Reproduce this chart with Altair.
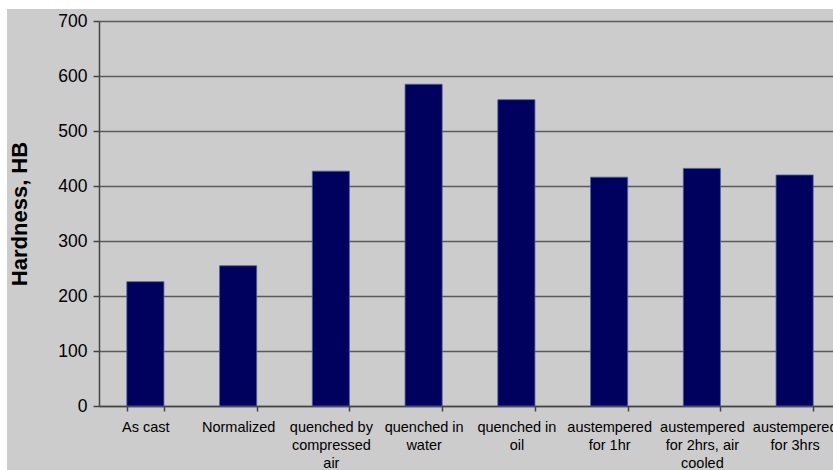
import altair as alt
import pandas as pd

# Heat-treatment conditions (line breaks mark how each label wraps)
categories = [
    "As cast",
    "Normalized",
    "quenched by\ncompressed\nair",
    "quenched in\nwater",
    "quenched in\noil",
    "austempered\nfor 1hr",
    "austempered\nfor 2hrs, air\ncooled",
    "austempered\nfor 3hrs",
]
hardness = [226, 255, 427, 585, 557, 416, 432, 420]
y_ticks = [0, 100, 200, 300, 400, 500, 600, 700]

df = pd.DataFrame({"treatment": categories, "hb": hardness})

GRAY = "#cccccc"
NAVY = "#00005e"
FONT = "Liberation Sans"

W, H = 734, 385

bars = (
    alt.Chart(df)
    .mark_bar(color=NAVY, stroke="#4f5f93", strokeWidth=0.8)
    .encode(
        x=alt.X(
            "treatment:N",
            sort=None,
            scale=alt.Scale(range=[0, 742], paddingInner=0.6, paddingOuter=0.3),
            axis=alt.Axis(
                title=None,
                labelAngle=0,
                labelExpr="isString(datum.value) ? split(datum.value, '\\n') : ''",
                labelFont=FONT,
                labelFontSize=14.5,
                labelColor="#000000",
                labelLineHeight=18,
                labelPadding=9,
                labelOverlap=False,
                labelBound=False,
                labelLimit=300,
                tickBand="extent",
                tickSize=5,
                tickColor="#444444",
                tickWidth=1.5,
                domainColor="#444444",
                domainWidth=1.5,
                grid=False,
            ),
        ),
        y=alt.Y(
            "hb:Q",
            scale=alt.Scale(domain=[0, 700], nice=False),
            axis=alt.Axis(
                title="Hardness, HB",
                titleFont=FONT,
                titleFontSize=22,
                titleFontWeight="bold",
                titleColor="#000000",
                titleAngle=-90,
                titleBaseline="alphabetic",
                titleAlign="center",
                titleX=-73,
                titleY=H / 2,
                values=y_ticks,
                labelFont=FONT,
                labelFontSize=17.5,
                labelColor="#000000",
                labelPadding=6,
                tickSize=6,
                tickColor="#444444",
                tickWidth=1.5,
                domainColor="#444444",
                domainWidth=1.5,
                grid=True,
                gridColor="#5a5a5a",
                gridWidth=1.5,
            ),
        ),
    )
)

# White margin strips along the top and left edges of the gray canvas
blank = alt.Data(values=[{}])
top_strip = alt.Chart(blank).mark_rect(color="#ffffff").encode(
    x=alt.value(-99), x2=alt.value(W), y=alt.value(-21), y2=alt.value(-12)
)
left_strip = alt.Chart(blank).mark_rect(color="#ffffff").encode(
    x=alt.value(-99), x2=alt.value(-92), y=alt.value(-12), y2=alt.value(H + 64)
)

chart = (
    alt.layer(top_strip, left_strip, bars)
    .properties(
        width=W,
        height=H,
        background=GRAY,
        padding={"left": 99, "top": 21, "right": 0, "bottom": 64},
        autosize=alt.AutoSizeParams(type="none"),
    )
    .configure_view(stroke=None, fill=GRAY)
)

chart.save("out.html", embed_options={"renderer": "svg", "actions": False})
